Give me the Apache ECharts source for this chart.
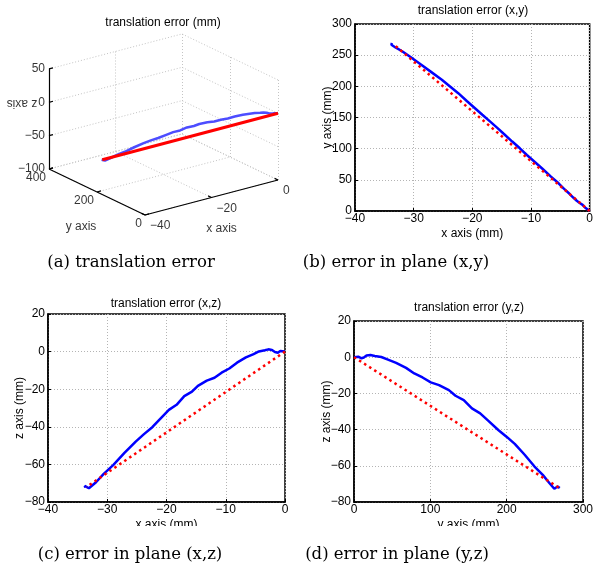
<!DOCTYPE html>
<html>
<head>
<meta charset="utf-8">
<script src="https://cdn.jsdelivr.net/npm/echarts@6/dist/echarts.min.js"></script>
<style>
html, body { margin: 0; padding: 0; background: #fff; }
#chart { width: 596px; height: 570px; }
</style>
</head>
<body>
<div id="chart"></div>
<script>
// measured trajectory (mm)
const trajX = [0, -0.3, -0.8, -1.2, -1.7, -2.2, -2.8, -3.4, -4.4, -5.3, -6.6, -8.1, -9.4, -10.7, -11.9, -13.2,
  -14.7, -15.7, -17.0, -18.3, -19.6, -20.9, -22.4, -23.8, -25.2, -27.1, -29.0, -30.6, -31.9, -33.1, -33.8, -33.7];
const trajY = [0, 1.3, 5.6, 9.9, 12.9, 16.4, 21.6, 27.2, 35.8, 44.5, 55.2, 68.2, 79.0, 89.8, 100.6, 111.4,
  124.3, 133.0, 143.8, 154.5, 165.3, 176.1, 189.0, 199.8, 210.6, 223.6, 236.5, 247.3, 255.9, 262.4, 266.7, 269.5];
const trajZ = [0, -0.4, 0.3, -0.6, -0.2, 0.9, 1.2, 0.7, 0.1, -1.3, -3.1, -5.9, -9.0, -11.2, -13.9, -15.4,
  -18.2, -21.3, -23.7, -28.3, -31.0, -35.2, -40.2, -43.9, -47.9, -53.9, -60.4, -65.0, -69.5, -72.7, -71.4, -72.3];
// ideal straight path (mm)
const refX = [0, -33.5];
const refY = [0, 268];
const refZ = [0, -72];
// ticks of the 3d box
const ticks3X = [-40, -20, 0];
const ticks3Y = [0, 200, 400];
const ticks3Z = [-100, -50, 0, 50];

const FONT = 'Liberation Sans, Arial, Helvetica, sans-serif';
const SERIF = 'DejaVu Serif, serif';
const minus = v => String(v).replace('-', '\u2212');

// 3d view: screen point of the (xmin, ymin, zmin) corner and the step of one unit on each axis
const view = { ox: 145, oy: 215, xs: [3.325, -0.875], ys: [-0.24, -0.115], zs: [0, -0.667] };
function proj(x, y, z) {
  const dx = x - ticks3X[0], dy = y - ticks3Y[0], dz = z - ticks3Z[0];
  return [view.ox + dx * view.xs[0] + dy * view.ys[0] + dz * view.zs[0],
          view.oy + dx * view.xs[1] + dy * view.ys[1] + dz * view.zs[1]];
}
const xLo = ticks3X[0], xHi = ticks3X[ticks3X.length - 1];
const yLo = ticks3Y[0], yHi = ticks3Y[ticks3Y.length - 1];
const zLo = ticks3Z[0], zHi = ticks3Z[ticks3Z.length - 1];

// dotted grid on the back walls and the floor
const gridSegs = [];
ticks3X.forEach(x => {
  gridSegs.push([[x, yHi, zLo], [x, yHi, zHi]]);
  gridSegs.push([[x, yLo, zLo], [x, yHi, zLo]]);
});
ticks3Y.forEach(y => {
  gridSegs.push([[xHi, y, zLo], [xHi, y, zHi]]);
  gridSegs.push([[xLo, y, zLo], [xHi, y, zLo]]);
});
ticks3Z.forEach(z => {
  gridSegs.push([[xLo, yHi, z], [xHi, yHi, z]]);
  gridSegs.push([[xHi, yLo, z], [xHi, yHi, z]]);
});
// solid axes + short ticks
const axisSegs = [
  [[xLo, yHi, zLo], [xLo, yHi, zHi]],
  [[xLo, yLo, zLo], [xLo, yHi, zLo]],
  [[xLo, yLo, zLo], [xHi, yLo, zLo]]
];
ticks3Z.forEach(z => axisSegs.push([[xLo, yHi, z], [xLo + 1.2, yHi, z]]));
ticks3Y.forEach(y => axisSegs.push([[xLo, y, zLo], [xLo + 1.2, y, zLo]]));
ticks3X.forEach(x => axisSegs.push([[x, yLo, zLo], [x, yLo + 14, zLo]]));

const toLines = segs => segs.map(s => ({ coords: [proj(...s[0]), proj(...s[1])] }));
const txt = { fontFamily: FONT, fontSize: 12, color: '#000' };

const labels3 = [];
ticks3Z.forEach(z => labels3.push({ value: proj(xLo, yHi, z), label: { formatter: minus(z), position: 'left', distance: 4 } }));
ticks3Y.forEach(y => labels3.push({ value: proj(xLo, y, zLo), label: { formatter: minus(y), position: 'left', distance: 3, offset: [0, 9] } }));
ticks3X.forEach(x => labels3.push({ value: proj(x, yLo, zLo), label: { formatter: minus(x), position: 'right', distance: 5, offset: [0, 11] } }));
labels3.push({ value: proj(xLo, (yLo + yHi) / 2, zLo), label: { formatter: 'y axis', position: 'inside', offset: [-16, 35] } });
labels3.push({ value: proj((xLo + xHi) / 2, yLo, zLo), label: { formatter: 'x axis', position: 'inside', offset: [10, 31] } });
labels3.push({ value: proj(xLo, yHi, (zLo + zHi) / 2), label: { formatter: 'z axis', position: 'inside', rotate: 180, offset: [27, 16] } });

function planeX(idx, min, max, interval, name) {
  return {
    gridIndex: idx, type: 'value', min, max, interval,
    name, nameLocation: 'middle', nameGap: 17, nameMoveOverlap: false, nameTextStyle: txt,
    axisLine: { onZero: false, lineStyle: { color: '#000', width: 1.5 } },
    axisTick: { inside: true, length: 3, lineStyle: { color: '#000' } },
    axisLabel: Object.assign({ formatter: minus, margin: 2 }, txt),
    splitLine: { show: true, lineStyle: { color: '#b4b4b4', type: [1, 2] } }
  };
}
function planeY(idx, min, max, interval, name, gap) {
  return {
    gridIndex: idx, type: 'value', min, max, interval,
    name, nameLocation: 'middle', nameGap: gap, nameMoveOverlap: false, nameTextStyle: txt,
    axisLine: { onZero: false, lineStyle: { color: '#000', width: 1.5 } },
    axisTick: { inside: true, length: 3, lineStyle: { color: '#000' } },
    axisLabel: Object.assign({ formatter: minus, margin: 3 }, txt),
    splitLine: { show: true, lineStyle: { color: '#b4b4b4', type: [1, 2] } }
  };
}
const pair = (a, b) => a.map((v, i) => [v, b[i]]);
function measured(idx, a, b) {
  return { type: 'line', xAxisIndex: idx, yAxisIndex: idx, data: pair(a, b), showSymbol: false,
    lineStyle: { color: '#0000ff', width: 2.5 }, z: 3 };
}
function ideal(idx, a, b) {
  return { type: 'line', xAxisIndex: idx, yAxisIndex: idx, data: pair(a, b), showSymbol: false,
    lineStyle: { color: '#ff0000', width: 2.5, type: [2.5, 3.5] }, z: 4 };
}
const frame = { show: true, borderColor: '#000', borderWidth: 1.5, backgroundColor: '#fff' };
const titleStyle = { fontFamily: FONT, fontSize: 12, fontWeight: 'normal', color: '#000' };
const capStyle = { fontFamily: SERIF, fontSize: 16.5, fill: '#000' };

const myChart = echarts.init(document.getElementById('chart'), null, { renderer: 'canvas' });
const option = {
  animation: false,
  backgroundColor: '#fff',
  title: [
    { text: 'translation error (mm)', left: 163, top: 17, padding: 0, textAlign: 'center', textStyle: titleStyle },
    { text: 'translation error (x,y)', left: 473, top: 5, padding: 0, textAlign: 'center', textStyle: titleStyle },
    { text: 'translation error (x,z)', left: 166, top: 298, padding: 0, textAlign: 'center', textStyle: titleStyle },
    { text: 'translation error (y,z)', left: 469, top: 302, padding: 0, textAlign: 'center', textStyle: titleStyle }
  ],
  grid: [
    { left: 0, top: 0, width: 596, height: 570 },
    Object.assign({ left: 355, top: 24, width: 237, height: 187 }, frame),
    Object.assign({ left: 48, top: 314, width: 237, height: 188 }, frame),
    Object.assign({ left: 354, top: 321, width: 232, height: 181 }, frame)
  ],
  xAxis: [
    { gridIndex: 0, type: 'value', min: 0, max: 596, show: false },
    planeX(1, -40, 0, 10, 'x axis (mm)'),
    planeX(2, -40, 0, 10, 'x axis (mm)'),
    planeX(3, 0, 300, 100, 'y axis (mm)')
  ],
  yAxis: [
    { gridIndex: 0, type: 'value', min: 0, max: 570, inverse: true, show: false },
    planeY(1, 0, 300, 50, 'y axis (mm)', 21),
    planeY(2, -80, 20, 20, 'z axis (mm)', 22),
    planeY(3, -80, 20, 20, 'z axis (mm)', 21)
  ],
  series: [
    { type: 'lines', coordinateSystem: 'cartesian2d', xAxisIndex: 0, yAxisIndex: 0, silent: true,
      data: toLines(gridSegs), lineStyle: { color: '#c4c4c4', width: 1, type: [1, 2], opacity: 1 }, z: 1 },
    { type: 'line', xAxisIndex: 0, yAxisIndex: 0, showSymbol: false, z: 3,
      data: trajX.map((x, i) => proj(x, trajY[i], trajZ[i])), lineStyle: { color: '#4d4dff', width: 2.5 } },
    { type: 'line', xAxisIndex: 0, yAxisIndex: 0, showSymbol: false, z: 4,
      data: refX.map((x, i) => proj(x, refY[i], refZ[i])), lineStyle: { color: '#ff0000', width: 3 } },
    { type: 'lines', coordinateSystem: 'cartesian2d', xAxisIndex: 0, yAxisIndex: 0, silent: true,
      data: toLines(axisSegs), lineStyle: { color: '#000', width: 1.2, opacity: 1 }, z: 5 },
    { type: 'scatter', xAxisIndex: 0, yAxisIndex: 0, symbolSize: 0, silent: true, z: 6,
      data: labels3, label: Object.assign({ show: true }, txt) },
    measured(1, trajX, trajY), ideal(1, refX, refY),
    measured(2, trajX, trajZ), ideal(2, refX, refZ),
    measured(3, trajY, trajZ), ideal(3, refY, refZ)
  ],
  graphic: [
    { type: 'rect', shape: { x: 0, y: 526, width: 596, height: 44 }, style: { fill: '#fff' }, z: 50 },
    { type: 'text', x: 131, y: 263, z: 60, style: Object.assign({ text: '(a) translation error', align: 'center', verticalAlign: 'middle' }, capStyle) },
    { type: 'text', x: 396, y: 263, z: 60, style: Object.assign({ text: '(b) error in plane (x,y)', align: 'center', verticalAlign: 'middle' }, capStyle) },
    { type: 'text', x: 130, y: 555, z: 60, style: Object.assign({ text: '(c) error in plane (x,z)', align: 'center', verticalAlign: 'middle' }, capStyle) },
    { type: 'text', x: 397, y: 555, z: 60, style: Object.assign({ text: '(d) error in plane (y,z)', align: 'center', verticalAlign: 'middle' }, capStyle) }
  ]
};
myChart.setOption(option);
</script>
</body>
</html>
